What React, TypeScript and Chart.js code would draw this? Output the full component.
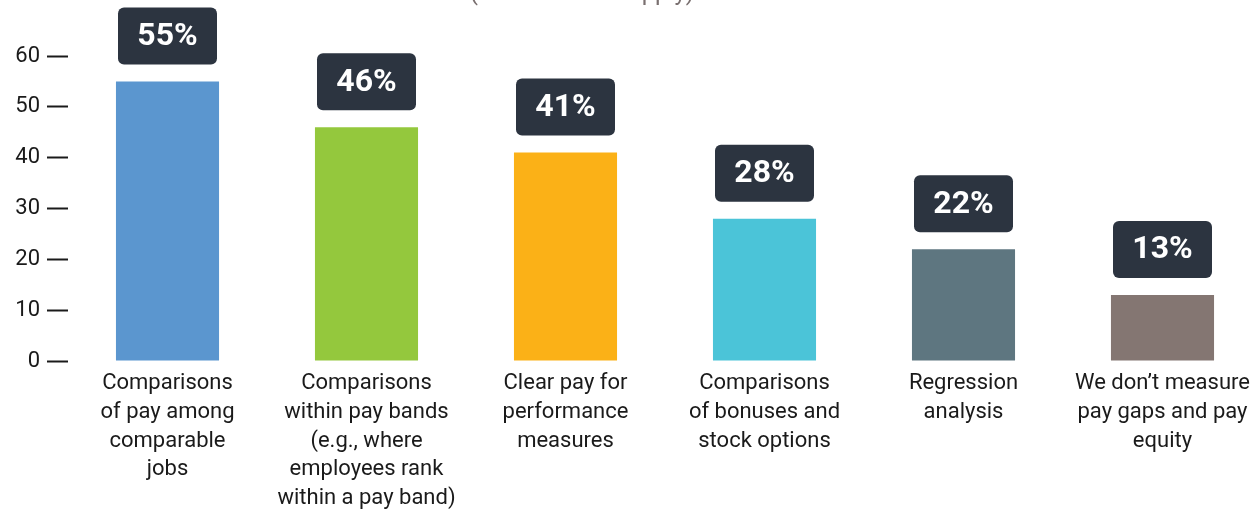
import React, { useEffect, useRef } from "react";
import { Chart, registerables } from "chart.js";

Chart.register(...registerables);

const categories: string[][] = [
  ["Comparisons", "of pay among", "comparable", "jobs"],
  ["Comparisons", "within pay bands", "(e.g., where", "employees rank", "within a pay band)"],
  ["Clear pay for", "performance", "measures"],
  ["Comparisons", "of bonuses and", "stock options"],
  ["Regression", "analysis"],
  ["We don’t measure", "pay gaps and pay", "equity"],
];
const values: number[] = [55, 46, 41, 28, 22, 13];
const valueLabels: string[] = ["55%", "46%", "41%", "28%", "22%", "13%"];
const barColors: string[] = ["#5b96cf", "#94c83d", "#fbb117", "#4bc4d8", "#5e7680", "#847672"];
const subtitle = "(Select all that apply)";

const FONT = "Roboto, 'Noto Sans', sans-serif";

export default function App() {
  const ref = useRef<HTMLCanvasElement | null>(null);

  useEffect(() => {
    document.body.style.margin = "0";
    document.body.style.overflow = "hidden";
    if (!ref.current) return;

    const labelPlugin = {
      id: "valueBoxes",
      afterDatasetsDraw(chart: any) {
        const ctx = chart.ctx;
        const meta = chart.getDatasetMeta(0);
        ctx.save();
        meta.data.forEach((bar: any, i: number) => {
          const w = 99;
          const h = 57;
          const gap = 17;
          const x = bar.x - w / 2;
          const y = bar.y - gap - h;
          ctx.fillStyle = "#2c3440";
          ctx.beginPath();
          (ctx as any).roundRect(x, y, w, h, 6);
          ctx.fill();
          ctx.fillStyle = "#ffffff";
          ctx.font = `bold 32px ${FONT}`;
          ctx.textAlign = "center";
          ctx.textBaseline = "middle";
          ctx.fillText(valueLabels[i], bar.x, y + h / 2 + 1);
        });
        ctx.restore();
      },
      afterDraw(chart: any) {
        const ctx = chart.ctx;
        ctx.save();
        ctx.fillStyle = "#7a7070";
        ctx.font = `24px ${FONT}`;
        ctx.textAlign = "center";
        ctx.textBaseline = "alphabetic";
        ctx.fillText(subtitle, 582, 0);
        ctx.restore();
      },
    };

    const chart = new Chart(ref.current, {
      type: "bar",
      data: {
        labels: categories,
        datasets: [
          {
            data: values,
            backgroundColor: barColors,
            borderWidth: 0,
            categoryPercentage: 1,
            barPercentage: 0.518,
          },
        ],
      },
      options: {
        animation: false,
        responsive: true,
        maintainAspectRatio: false,
        layout: { padding: { top: 56, right: 0, bottom: 0, left: 0 } },
        plugins: {
          legend: { display: false },
          tooltip: { enabled: false },
        },
        scales: {
          x: {
            grid: { display: false },
            border: { display: false },
            ticks: {
              color: "#1a1a1a",
              font: { family: FONT, size: 22, lineHeight: 1.31 },
              padding: 0,
              maxRotation: 0,
              autoSkip: false,
            },
            afterFit(scale: any) {
              scale.height = 150;
            },
          },
          y: {
            min: 0,
            max: 60,
            grid: {
              drawOnChartArea: false,
              drawTicks: true,
              tickLength: 21,
              tickWidth: 2,
              color: "#1a1a1a",
            },
            border: { display: false },
            ticks: {
              stepSize: 10,
              color: "#1a1a1a",
              font: { family: FONT, size: 22 },
              padding: 7,
            },
            afterFit(scale: any) {
              scale.width = 68;
            },
          },
        },
      },
      plugins: [labelPlugin],
    });
    return () => chart.destroy();
  }, []);

  return (
    <div style={{ position: "absolute", left: 0, top: 0, width: "1262px", height: "511px" }}>
      <canvas ref={ref} />
    </div>
  );
}
